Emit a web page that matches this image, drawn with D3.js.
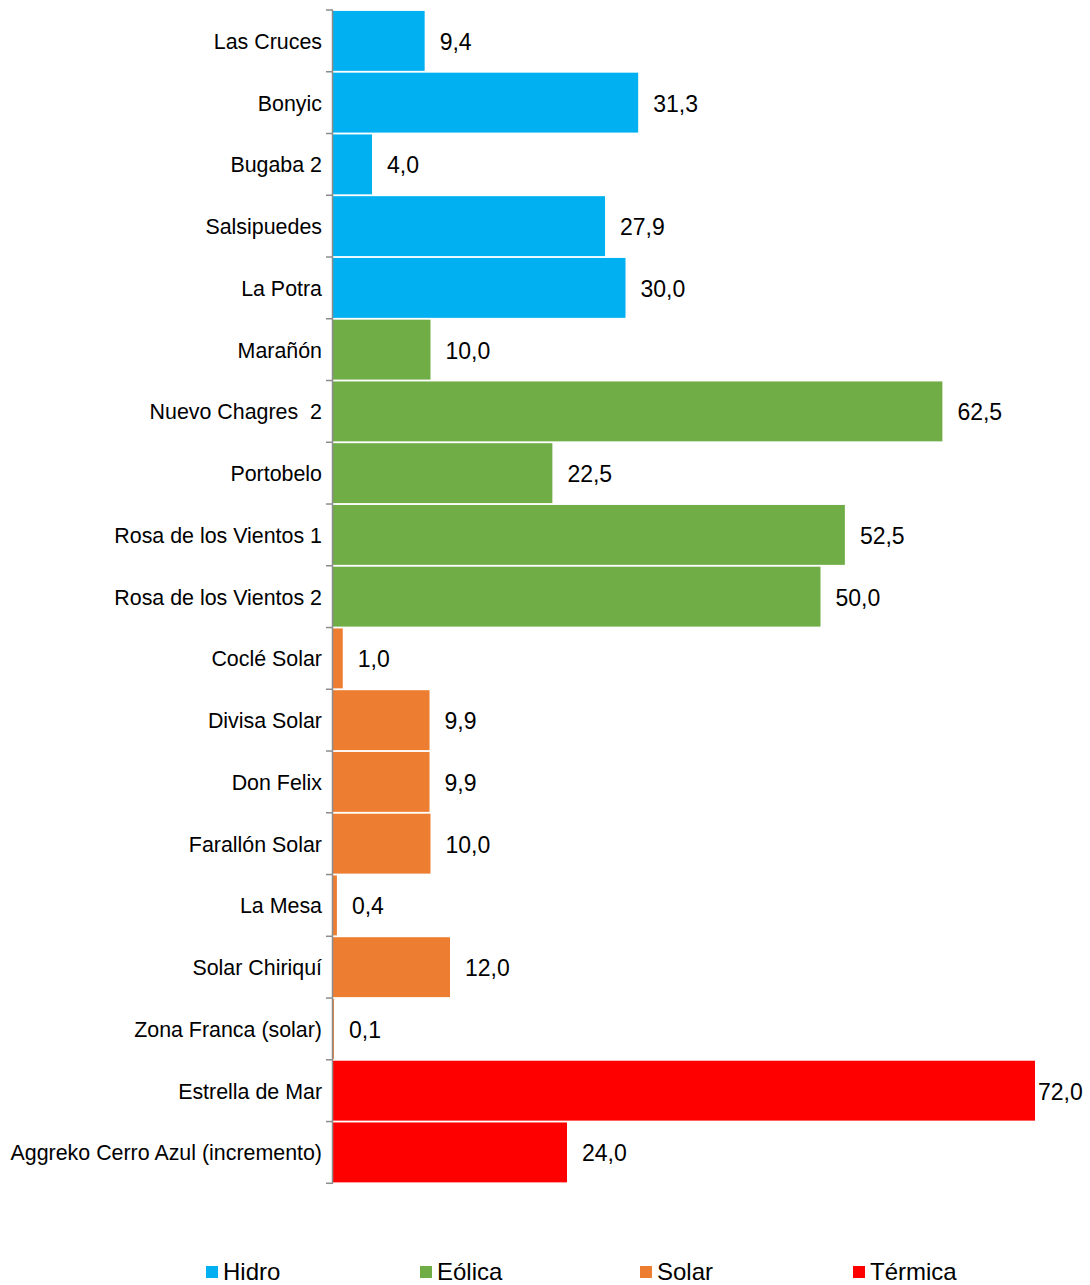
<!DOCTYPE html>
<html><head><meta charset="utf-8">
<script src="https://cdn.jsdelivr.net/npm/d3@7"></script>
<style>body{margin:0;background:#fff}svg{display:block}text{font-family:"Liberation Sans",Arial,sans-serif;fill:#000}</style>
</head><body><svg id="c" width="1090" height="1285"></svg>
<script>
const categories = ["Las Cruces","Bonyic","Bugaba 2","Salsipuedes","La Potra","Marañón","Nuevo Chagres  2","Portobelo","Rosa de los Vientos 1","Rosa de los Vientos 2","Coclé Solar","Divisa Solar","Don Felix","Farallón Solar","La Mesa","Solar Chiriquí","Zona Franca (solar)","Estrella de Mar","Aggreko Cerro Azul (incremento)"];
const values = [9.4,31.3,4.0,27.9,30.0,10.0,62.5,22.5,52.5,50.0,1.0,9.9,9.9,10.0,0.4,12.0,0.1,72.0,24.0];
const types = ["Hidro","Hidro","Hidro","Hidro","Hidro","Eólica","Eólica","Eólica","Eólica","Eólica","Solar","Solar","Solar","Solar","Solar","Solar","Solar","Térmica","Térmica"];
const legendNames = ["Hidro","Eólica","Solar","Térmica"];
const legendColors = ["#00B0F0","#70AD47","#ED7D31","#FF0000"];

const svg = d3.select("#c");
const x = d3.scaleLinear().domain([0,72]).range([333,1035]);
const y = d3.scaleBand().domain(categories).range([10,1183.3]).paddingInner(0.03).paddingOuter(0.015);
const color = d3.scaleOrdinal().domain(legendNames).range(legendColors);
const data = categories.map((c,i)=>({c,v:values[i],t:types[i]}));

svg.append("g").selectAll("rect").data(data).join("rect")
  .attr("x", x(0)).attr("y", d=>y(d.c))
  .attr("width", d=>x(d.v)-x(0)).attr("height", y.bandwidth())
  .attr("fill", d=>color(d.t));

svg.append("g").selectAll("text").data(data).join("text")
  .attr("x", d=>x(d.v)+ (d.v>=70?3:15)).attr("y", d=>y(d.c)+y.bandwidth()/2+9)
  .attr("font-size", 23).text(d=>d.v.toFixed(1).replace(".",","));

// axis
const step = (1183.3-10)/categories.length;
const ax = svg.append("g");
ax.append("line").attr("x1",332.5).attr("x2",332.5).attr("y1",10).attr("y2",1183.3).attr("stroke","#8c8c8c").attr("stroke-width",1.5);
ax.selectAll("line.t").data(d3.range(categories.length+1)).join("line").attr("class","t")
  .attr("x1",326).attr("x2",333).attr("y1",i=>10+i*step).attr("y2",i=>10+i*step)
  .attr("stroke","#8c8c8c").attr("stroke-width",1.5);
ax.selectAll("text").data(categories).join("text")
  .attr("x",322).attr("y",d=>y(d)+y.bandwidth()/2+8).attr("text-anchor","end")
  .attr("font-size",21.4).attr("xml:space","preserve").style("white-space","pre").text(d=>d);

// legend
const lx = [206,420,640,853];
const lg = svg.append("g").selectAll("g").data(legendNames).join("g")
  .attr("transform",(d,i)=>`translate(${lx[i]},1266)`);
lg.append("rect").attr("width",12).attr("height",12).attr("fill",d=>color(d));
lg.append("text").attr("x",17).attr("y",14).attr("font-size",24).text(d=>d);
</script></body></html>
